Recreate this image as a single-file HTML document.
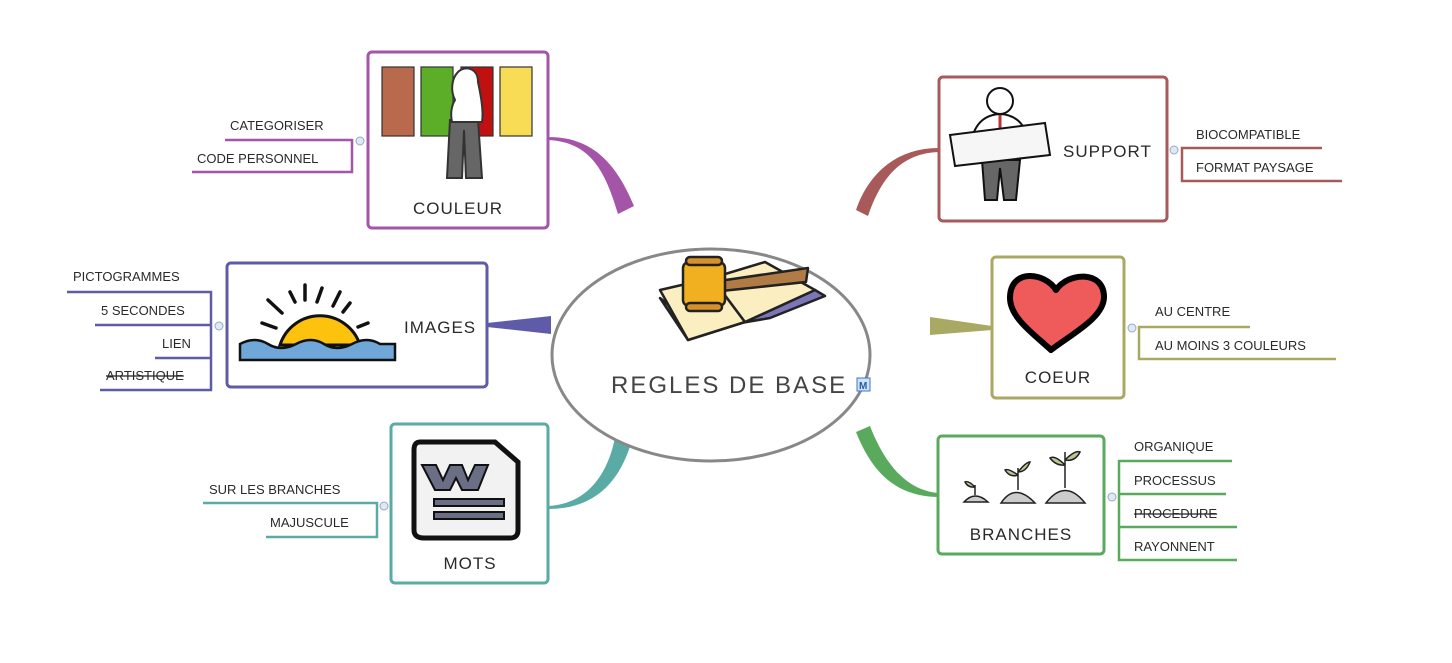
<!DOCTYPE html>
<html><head><meta charset="utf-8"><style>
html,body{margin:0;padding:0;background:#fff;width:1452px;height:663px;overflow:hidden}
svg{display:block}
text{font-family:"Liberation Sans",sans-serif;fill:#2a2a2a}
.s{font-size:13px}
.t{font-size:17px;letter-spacing:1px}
</style></head><body>
<svg width="1452" height="663" viewBox="0 0 1452 663">
<!-- connectors -->
<path d="M548,140 C590,142 605,170 618,214 L634,206 C615,160 590,137 548,137 Z" fill="#a455a8"/>
<path d="M487,323 L551,316 L551,334 L487,327 Z" fill="#5f5ba8"/>
<path d="M548,506 C590,504 610,470 616,432 L632,440 C620,482 595,509 548,509 Z" fill="#5aaaa6"/>
<path d="M939,148 C895,148 868,175 856,210 L868,216 C880,180 900,153 939,152 Z" fill="#a85a5a"/>
<path d="M930,317 L992,326 L992,330 L930,335 Z" fill="#a9a963"/>
<path d="M856,432 C872,472 895,496 938,497 L938,493 C905,490 884,462 870,426 Z" fill="#5aaa5e"/>
<!-- center -->
<ellipse cx="711" cy="355" rx="159" ry="106" fill="#fff" stroke="#888" stroke-width="3"/>
<g stroke="#222" stroke-width="2.5" stroke-linejoin="round">
<path d="M660,298 L700,330 L770,318 L825,296 L815,290 L745,322 L688,340 Z" fill="#7a76b8"/>
<path d="M660,290 L712,278 L745,322 L688,340 Z" fill="#fbeec0"/>
<path d="M712,278 L765,262 L815,290 L745,322 Z" fill="#fbeec0"/>
<path d="M712,282 L808,268 L806,282 L712,292 Z" fill="#b07b45"/>
<rect x="683" y="262" width="42" height="44" rx="6" fill="#f0b020"/>
<rect x="686" y="257" width="36" height="8" rx="4" fill="#d8902a"/>
<rect x="686" y="303" width="36" height="8" rx="4" fill="#d8902a"/>
</g>
<text x="611" y="393" style="font-size:24px;letter-spacing:2px;fill:#444">REGLES DE BASE</text>
<rect x="857" y="378" width="13" height="13" fill="#cfe3f7" stroke="#3a7ac8"/>
<text x="859" y="389" style="font-size:10px;font-weight:bold;fill:#2a5aa8">M</text>

<!-- COULEUR -->
<rect x="368" y="52" width="180" height="176" rx="4" fill="#fff" stroke="#a455a8" stroke-width="3"/>
<g stroke="#333" stroke-width="1.2">
<rect x="382" y="67" width="32" height="69" fill="#b96a4c"/>
<rect x="421" y="67" width="32" height="69" fill="#5cad27"/>
<rect x="461" y="67" width="32" height="69" fill="#c01010"/>
<rect x="500" y="67" width="32" height="69" fill="#f9dc55"/>
<path d="M450,120 L447,178 L462,178 L464,130 L466,178 L482,178 L478,120 Z" fill="#666" stroke-width="2"/>
<path d="M455,100 C450,90 452,78 458,72 C465,65 478,68 478,82 C480,92 484,110 482,122 L452,122 C450,112 452,105 455,100 Z" fill="#fff" stroke-width="2"/>
</g>
<text x="458" y="214" text-anchor="middle" class="t">COULEUR</text>
<path d="M225,140 H352 V172 H192" fill="none" stroke="#a455a8" stroke-width="2.5"/>
<circle cx="360" cy="141" r="4" fill="#dde8f8" stroke="#9ab"/>
<text x="230" y="130" class="s">CATEGORISER</text>
<text x="197" y="163" class="s">CODE PERSONNEL</text>

<!-- IMAGES -->
<rect x="227" y="263" width="260" height="124" rx="4" fill="#fff" stroke="#5f5ba8" stroke-width="3"/>
<path d="M280,345 A42,42 0 0 1 360,345 Z" fill="#fdc20e" stroke="#111" stroke-width="3"/>
<g stroke="#111" stroke-width="3.5" stroke-linecap="round">
<line x1="305" y1="285" x2="305" y2="300"/><line x1="322" y1="288" x2="317" y2="302"/><line x1="290" y1="292" x2="295" y2="302"/>
<line x1="340" y1="292" x2="333" y2="306"/><line x1="350" y1="303" x2="343" y2="312"/><line x1="268" y1="300" x2="282" y2="313"/>
<line x1="262" y1="323" x2="276" y2="328"/><line x1="368" y1="323" x2="358" y2="327"/>
</g>
<path d="M240,344 Q255,336 268,344 T296,344 T324,344 T352,344 T380,344 L395,344 L395,360 L240,360 Z" fill="#6fa8d8" stroke="#111" stroke-width="2.5"/>
<text x="404" y="333" class="t">IMAGES</text>
<path d="M67,292 H211 V390 H100 M95,325 H211 M155,358 H211" fill="none" stroke="#5f5ba8" stroke-width="2.5"/>
<circle cx="219" cy="326" r="4" fill="#dde8f8" stroke="#9ab"/>
<text x="73" y="281" class="s">PICTOGRAMMES</text>
<text x="101" y="315" class="s">5 SECONDES</text>
<text x="162" y="348" class="s">LIEN</text>
<text x="106" y="380" class="s" text-decoration="line-through">ARTISTIQUE</text>

<!-- MOTS -->
<rect x="391" y="424" width="157" height="159" rx="4" fill="#fff" stroke="#5aaaa6" stroke-width="3"/>
<path d="M420,442 H495 L518,462 V530 Q518,538 510,538 H424 Q414,538 414,530 V450 Q414,442 420,442 Z" fill="#f2f2f2" stroke="#111" stroke-width="5"/>
<path d="M422,465 H436 L443,480 L450,465 H462 L468,480 L475,465 H488 L478,490 H462 L456,478 L450,490 H435 Z" fill="#6a6f86" stroke="#111" stroke-width="2"/>
<rect x="434" y="499" width="70" height="7" fill="#6a6f86" stroke="#111" stroke-width="2"/>
<rect x="434" y="512" width="70" height="7" fill="#6a6f86" stroke="#111" stroke-width="2"/>
<text x="470" y="569" text-anchor="middle" class="t">MOTS</text>
<path d="M203,503 H377 V537 H266" fill="none" stroke="#5aaaa6" stroke-width="2.5"/>
<circle cx="384" cy="506" r="4" fill="#dde8f8" stroke="#9ab"/>
<text x="209" y="494" class="s">SUR LES BRANCHES</text>
<text x="270" y="527" class="s">MAJUSCULE</text>

<!-- SUPPORT -->
<rect x="939" y="77" width="228" height="144" rx="4" fill="#fff" stroke="#a85a5a" stroke-width="3"/>
<g stroke="#111" stroke-width="2">
<path d="M982,160 L985,200 L997,200 L1000,168 L1004,200 L1016,200 L1020,160 Z" fill="#666"/>
<path d="M972,138 Q978,115 1000,114 Q1022,115 1028,138 Z" fill="#fff"/>
<circle cx="1000" cy="101" r="13" fill="#fff"/>
<line x1="1000" y1="115" x2="1000" y2="128" stroke="#b33" stroke-width="3"/>
<path d="M950,135 L1045,123 L1050,155 L955,166 Z" fill="#f6f6f6"/>
</g>
<text x="1063" y="157" class="t">SUPPORT</text>
<path d="M1322,148 H1182 V181 H1342" fill="none" stroke="#a85a5a" stroke-width="2.5"/>
<circle cx="1174" cy="150" r="4" fill="#dde8f8" stroke="#9ab"/>
<text x="1196" y="139" class="s">BIOCOMPATIBLE</text>
<text x="1196" y="172" class="s">FORMAT PAYSAGE</text>

<!-- COEUR -->
<rect x="992" y="257" width="132" height="141" rx="4" fill="#fff" stroke="#a9a963" stroke-width="3"/>
<path d="M1056,290 C1045,272 1010,268 1010,298 C1010,318 1035,335 1051,350 C1070,335 1104,318 1104,297 C1104,270 1068,272 1056,290 Z" fill="#ef5a5a" stroke="#000" stroke-width="6" stroke-linejoin="round"/>
<text x="1058" y="383" text-anchor="middle" class="t">COEUR</text>
<path d="M1250,327 H1139 V359 H1336" fill="none" stroke="#a9a963" stroke-width="2.5"/>
<circle cx="1132" cy="328" r="4" fill="#dde8f8" stroke="#9ab"/>
<text x="1155" y="316" class="s">AU CENTRE</text>
<text x="1155" y="350" class="s">AU MOINS 3 COULEURS</text>

<!-- BRANCHES -->
<rect x="938" y="436" width="166" height="118" rx="4" fill="#fff" stroke="#5aaa5e" stroke-width="3"/>
<g stroke="#222" stroke-width="1.5">
<path d="M964,502 Q975,490 988,502 Z" fill="#ccc"/>
<path d="M1001,503 Q1015,482 1035,503 Z" fill="#ccc"/>
<path d="M1046,503 Q1065,478 1085,503 Z" fill="#ccc"/>
<path d="M975,495 V485 M1018,490 V468 M1065,488 V452" fill="none"/>
<path d="M975,487 Q968,480 965,482 Q968,488 975,487 M1018,475 Q1008,468 1005,470 Q1010,478 1018,475 M1018,472 Q1026,462 1030,462 Q1026,472 1018,472 M1065,465 Q1055,455 1050,458 Q1056,466 1065,465 M1065,460 Q1075,450 1080,452 Q1075,462 1065,460" fill="#b8c890"/>
</g>
<text x="1021" y="540" text-anchor="middle" class="t">BRANCHES</text>
<path d="M1232,461 H1119 V560 H1237 M1119,494 H1226 M1119,527 H1237" fill="none" stroke="#5aaa5e" stroke-width="2.5"/>
<circle cx="1112" cy="497" r="4" fill="#dde8f8" stroke="#9ab"/>
<text x="1134" y="451" class="s">ORGANIQUE</text>
<text x="1134" y="485" class="s">PROCESSUS</text>
<text x="1134" y="518" class="s" text-decoration="line-through">PROCEDURE</text>
<text x="1134" y="551" class="s">RAYONNENT</text>
</svg>
</body></html>
